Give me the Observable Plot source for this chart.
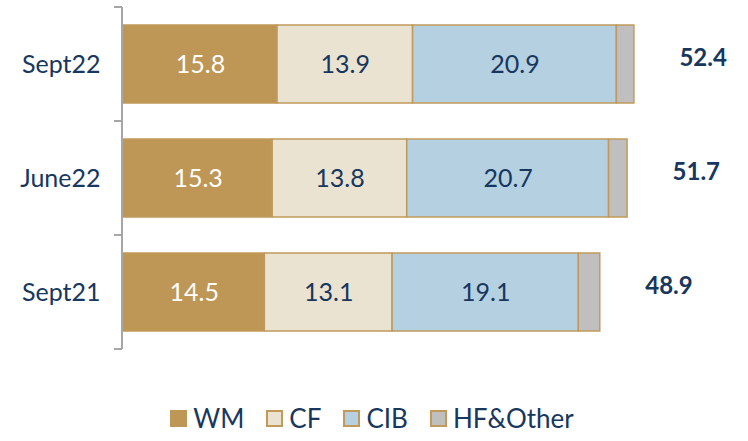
<!DOCTYPE html>
<html><head><meta charset="utf-8">
<script src="https://cdn.jsdelivr.net/npm/d3@7"></script>
<script src="https://cdn.jsdelivr.net/npm/@observablehq/plot@0.6"></script>
<style>
body{margin:0;background:#fff;font-family:Lato,sans-serif;}
#legend{display:flex;justify-content:center;align-items:center;height:46px;margin-left:-4px;font-size:26px;color:#17375E;}
#legend .item{display:flex;align-items:center;margin:0 11px;}
#legend .sw{width:13px;height:13px;border:2px solid #C19A5B;margin-right:6px;}
</style>
</head><body><div id="chart"></div><div id="legend"></div><script>
const periods = ["Sept22", "June22", "Sept21"];
const segments = ["WM", "CF", "CIB", "HF&Other"];
const wm = [15.8, 15.3, 14.5];
const cf = [13.9, 13.8, 13.1];
const cib = [20.9, 20.7, 19.1];
const hf = [1.8, 1.9, 2.2];
const totals = [52.4, 51.7, 48.9];
const colors = ["#BE9656", "#EAE3D2", "#B4D0E1", "#BFBFBF"];

const navy = "#17375E";
const series = [wm, cf, cib, hf];
const rows = [];
periods.forEach((p, i) => segments.forEach((s, j) => rows.push({period: p, segment: s, value: series[j][i]})));
const totalRows = periods.map((p, i) => ({period: p, total: totals[i]}));

const stackOpts = (extra) => Plot.stackX({x: "value", y: "period", z: "segment", order: segments, ...extra});

const plot = Plot.plot({
  width: 748,
  height: 395,
  marginLeft: 123,
  marginRight: 40,
  marginTop: 7,
  marginBottom: 46,
  style: {fontFamily: "Lato, sans-serif", background: "#fff"},
  x: {domain: [0, 60], axis: null},
  y: {domain: periods, paddingInner: 0.316, paddingOuter: 0.158, label: null},
  color: {domain: segments, range: colors},
  marks: [
    Plot.barX(rows, stackOpts({fill: "segment", stroke: "#C19A5B", strokeWidth: 1.5})),
    Plot.text(rows, stackOpts({text: d => d.segment === "WM" ? d.value.toFixed(1) : "", fill: "#FFFFFF", fontSize: 25})),
    Plot.text(rows, stackOpts({text: d => (d.segment === "CF" || d.segment === "CIB") ? d.value.toFixed(1) : "", fill: navy, fontSize: 25})),
    Plot.text(totalRows, {x: "total", y: "period", text: d => d.total.toFixed(1), dx: 45, dy: -6, textAnchor: "start", fill: navy, fontWeight: "bold", fontSize: 24}),
    Plot.axisY({tickSize: 0, tickPadding: 23, fontSize: 25, fill: navy, label: null})
  ]
});

// category bracket axis at band boundaries, drawn from the y scale
const ys = plot.scale("y");
const xs = plot.scale("x");
const step = ys.step;
const x0 = xs.apply(0) - 1;
const bounds = periods.map(p => ys.apply(p) - ys.paddingInner * step / 2);
bounds.push(ys.apply(periods[periods.length - 1]) + ys.bandwidth + ys.paddingInner * step / 2);
const g = d3.select(plot).append("g").attr("stroke", "#A6A6A6").attr("stroke-width", 2).attr("fill", "none");
g.append("line").attr("x1", x0).attr("x2", x0).attr("y1", bounds[0]).attr("y2", bounds[bounds.length - 1]);
bounds.forEach(b => g.append("line").attr("x1", x0 - 8).attr("x2", x0).attr("y1", b).attr("y2", b));

document.getElementById("chart").appendChild(plot);

const legend = d3.select("#legend");
segments.forEach((s, i) => {
  const it = legend.append("div").attr("class", "item");
  it.append("div").attr("class", "sw").style("background", colors[i]).style("border-color", i === 0 ? colors[0] : "#C19A5B");
  it.append("span").text(s);
});
</script></body></html>
